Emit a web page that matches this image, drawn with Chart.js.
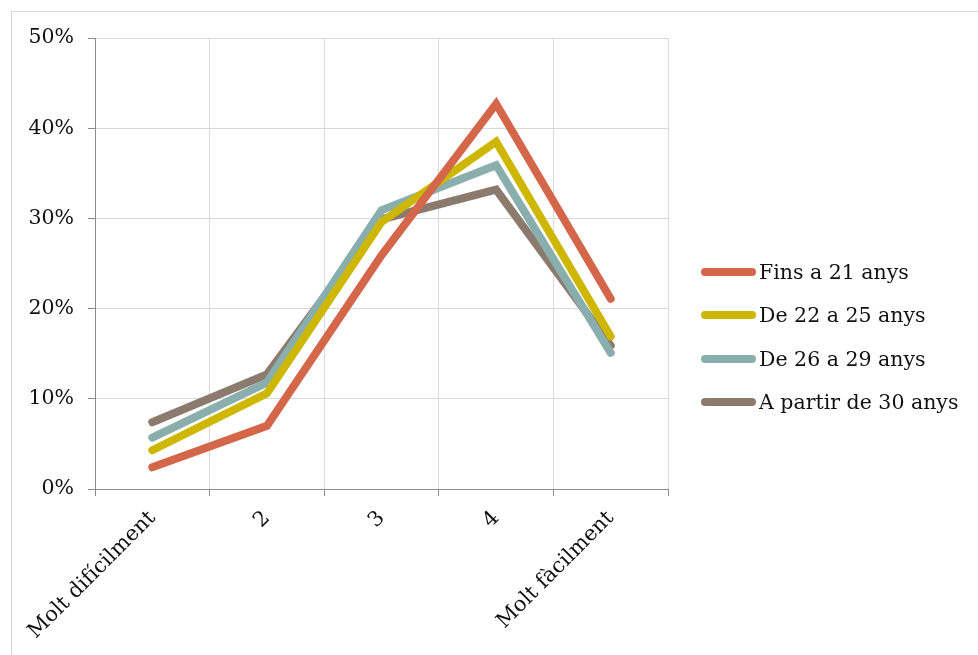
<!DOCTYPE html>
<html>
<head>
<meta charset="utf-8">
<script src="https://cdn.jsdelivr.net/npm/chart.js@4/dist/chart.umd.min.js"></script>
<style>
  html, body { margin: 0; padding: 0; background: #fff; }
  #wrap { position: relative; width: 978px; height: 655px; overflow: hidden; }
  #frame { position: absolute; left: 11px; top: 11px; width: 1000px; height: 700px;
           border-left: 1px solid #d4d4d4; border-top: 1px solid #d4d4d4; }
  #c { position: absolute; left: 0; top: 0; }
  #legend { position: absolute; left: 701px; top: 250px; font-family: "DejaVu Serif", serif;
            font-size: 20.5px; color: #111; }
  #legend .item { display: flex; align-items: center; height: 43.5px; }
  #legend .sw { width: 55px; height: 8px; border-radius: 4px; margin-right: 3px; }
</style>
</head>
<body>
<div id="wrap">
  <div id="frame"></div>
  <canvas id="c" width="978" height="655"></canvas>
  <div id="legend"></div>
</div>
<script>
/* ===== DATA ===== */
const CATEGORIES = ["Molt difícilment", "2", "3", "4", "Molt fàcilment"];
const SERIES_NAMES = ["Fins a 21 anys", "De 22 a 25 anys", "De 26 a 29 anys", "A partir de 30 anys"];
const FINS_21 = [2.4, 7.0, 25.9, 42.7, 21.1];
const DE_22_25 = [4.3, 10.6, 29.6, 38.5, 16.9];
const DE_26_29 = [5.7, 11.8, 30.9, 35.9, 15.1];
const DES_30 = [7.4, 12.7, 29.9, 33.2, 15.9];
const Y_TICKS = [0, 10, 20, 30, 40, 50];
/* ================ */

const COLORS = ["#d4664a", "#cdb700", "#8aaeae", "#8c7a6f"];
const VALUES = [FINS_21, DE_22_25, DE_26_29, DES_30];
const FONT = "'DejaVu Serif', serif";

const chart = new Chart(document.getElementById("c"), {
  type: "line",
  data: {
    labels: CATEGORIES,
    datasets: VALUES.map((v, i) => ({
      label: SERIES_NAMES[i],
      data: v,
      borderColor: COLORS[i],
      backgroundColor: COLORS[i],
      borderWidth: 8,
      borderCapStyle: "round",
      borderJoinStyle: "miter",
      pointRadius: 0,
      tension: 0
    }))
  },
  options: {
    responsive: false,
    animation: false,
    devicePixelRatio: 1,
    layout: { padding: { left: 0, right: 310, top: 38, bottom: 0 } },
    plugins: { legend: { display: false }, tooltip: { enabled: false } },
    scales: {
      x: {
        offset: true,
        grid: { offset: true, color: "#d9d9d9", tickColor: "#8c8c8c", tickLength: 7 },
        border: { color: "#8c8c8c", width: 1 },
        ticks: {
          minRotation: 45, maxRotation: 45, padding: 10,
          color: "#111", font: { family: FONT, size: 21 }
        },
        afterFit: (s) => { s.height = 166; }
      },
      y: {
        min: 0, max: 50,
        afterBuildTicks: (s) => { s.ticks = Y_TICKS.map((v) => ({ value: v })); },
        grid: { color: "#d9d9d9", tickColor: "#8c8c8c", tickLength: 7 },
        border: { color: "#8c8c8c", width: 1 },
        ticks: {
          padding: 14, color: "#111", font: { family: FONT, size: 20.5 },
          callback: (v) => v + "%"
        },
        afterFit: (s) => { s.width = 95; }
      }
    }
  }
});

// legend built from the chart datasets
const leg = document.getElementById("legend");
chart.data.datasets.forEach((ds) => {
  const it = document.createElement("div");
  it.className = "item";
  it.innerHTML = `<span class="sw" style="background:${ds.borderColor}"></span><span>${ds.label}</span>`;
  leg.appendChild(it);
});
</script>
</body>
</html>
